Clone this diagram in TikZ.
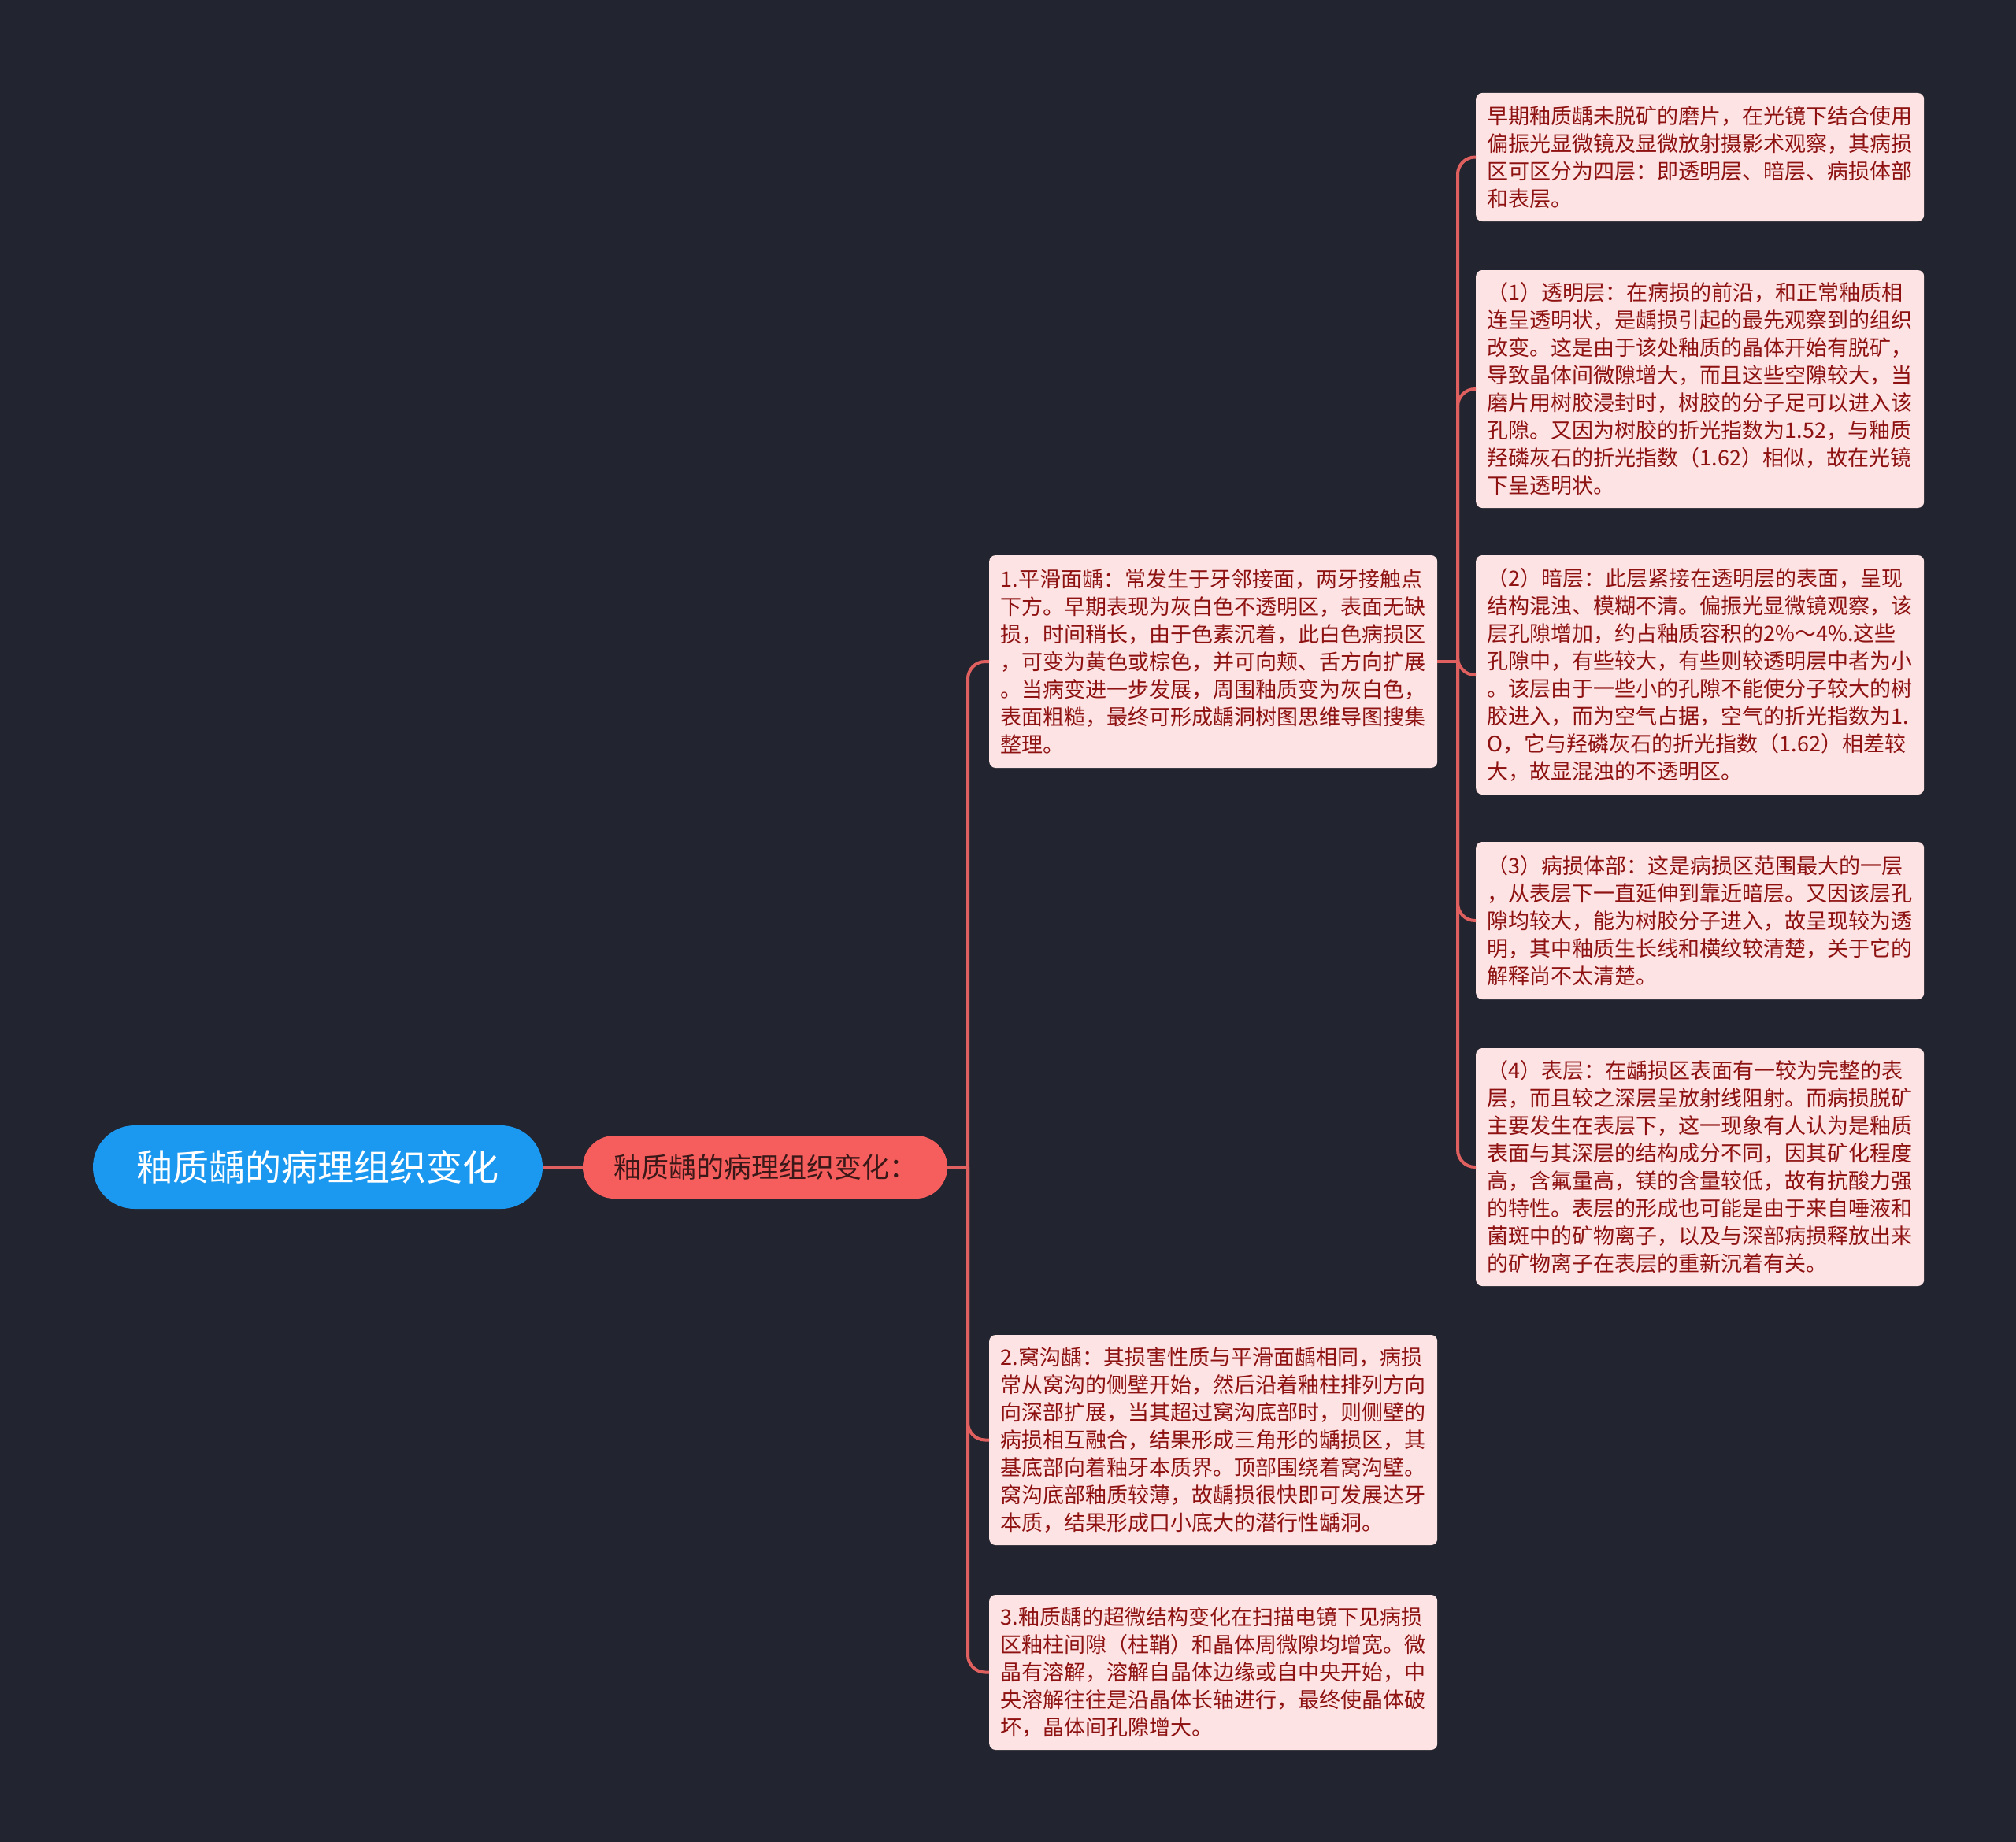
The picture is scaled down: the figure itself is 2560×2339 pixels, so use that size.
\documentclass[tikz,border=0pt]{standalone}
\usepackage{fontspec}
\setmainfont{Noto Sans CJK SC}
\definecolor{bgc}{HTML}{22252F}
\definecolor{linec}{HTML}{E0605F}
\definecolor{boxfill}{HTML}{FDE3E3}
\definecolor{boxtext}{HTML}{8E1212}
\definecolor{rootfill}{HTML}{1B98EF}
\definecolor{subfill}{HTML}{F65D5D}
\definecolor{subtext}{HTML}{3A1818}
\tikzset{
  leafbox/.style={draw=none, fill=boxfill, text=boxtext, rounded corners=8pt,
    text width=540pt, align=left, inner xsep=14.5pt, inner ysep=0pt,
    font=\fontsize{27}{35}\selectfont, anchor=west},
  rootbox/.style={fill=rootfill, text=white, rounded corners=53pt,
    minimum width=571pt, minimum height=106pt, inner sep=0pt,
    font=\fontsize{46}{52}\selectfont},
  subbox/.style={fill=subfill, text=subtext, rounded corners=40pt,
    minimum width=463pt, minimum height=80pt, inner sep=0pt,
    font=\fontsize{35}{42}\selectfont},
  conn/.style={draw=linec, line width=4pt},
  elbowconn/.style={conn, rounded corners=22pt}
}
\begin{document}
\begin{tikzpicture}[x=1pt,y=-1pt]
\fill[bgc] (0,0) rectangle (2560,2339);
\useasboundingbox (0,0) rectangle (2560,2339);

\node[rootbox] (root) at (403.5,1482) {釉质龋的病理组织变化};
\node[subbox] (sub) at (971.5,1482) {釉质龋的病理组织变化：};

\node[leafbox, minimum height=270pt] (m1) at (1256,840) {1.平滑面龋：常发生于牙邻接面，两牙接触点\\下方。早期表现为灰白色不透明区，表面无缺\\损，时间稍长，由于色素沉着，此白色病损区\\，可变为黄色或棕色，并可向颊、舌方向扩展\\。当病变进一步发展，周围釉质变为灰白色，\\表面粗糙，最终可形成龋洞树图思维导图搜集\\整理。};
\node[leafbox, minimum height=267pt] (m2) at (1256,1828.5) {2.窝沟龋：其损害性质与平滑面龋相同，病损\\常从窝沟的侧壁开始，然后沿着釉柱排列方向\\向深部扩展，当其超过窝沟底部时，则侧壁的\\病损相互融合，结果形成三角形的龋损区，其\\基底部向着釉牙本质界。顶部围绕着窝沟壁。\\窝沟底部釉质较薄，故龋损很快即可发展达牙\\本质，结果形成口小底大的潜行性龋洞。};
\node[leafbox, minimum height=197pt] (m3) at (1256,2123.5) {3.釉质龋的超微结构变化在扫描电镜下见病损\\区釉柱间隙（柱鞘）和晶体周微隙均增宽。微\\晶有溶解，溶解自晶体边缘或自中央开始，中\\央溶解往往是沿晶体长轴进行，最终使晶体破\\坏，晶体间孔隙增大。};

\node[leafbox, minimum height=163pt] (a) at (1874,199.5) {早期釉质龋未脱矿的磨片，在光镜下结合使用\\偏振光显微镜及显微放射摄影术观察，其病损\\区可区分为四层：即透明层、暗层、病损体部\\和表层。};
\node[leafbox, minimum height=302pt] (b) at (1874,494) {（1）透明层：在病损的前沿，和正常釉质相\\连呈透明状，是龋损引起的最先观察到的组织\\改变。这是由于该处釉质的晶体开始有脱矿，\\导致晶体间微隙增大，而且这些空隙较大，当\\磨片用树胶浸封时，树胶的分子足可以进入该\\孔隙。又因为树胶的折光指数为1.52，与釉质\\羟磷灰石的折光指数（1.62）相似，故在光镜\\下呈透明状。};
\node[leafbox, minimum height=304pt] (c) at (1874,857) {（2）暗层：此层紧接在透明层的表面，呈现\\结构混浊、模糊不清。偏振光显微镜观察，该\\层孔隙增加，约占釉质容积的2\%～4\%.这些\\孔隙中，有些较大，有些则较透明层中者为小\\。该层由于一些小的孔隙不能使分子较大的树\\胶进入，而为空气占据，空气的折光指数为1.\\O，它与羟磷灰石的折光指数（1.62）相差较\\大，故显混浊的不透明区。};
\node[leafbox, minimum height=200pt] (d) at (1874,1169) {（3）病损体部：这是病损区范围最大的一层\\，从表层下一直延伸到靠近暗层。又因该层孔\\隙均较大，能为树胶分子进入，故呈现较为透\\明，其中釉质生长线和横纹较清楚，关于它的\\解释尚不太清楚。};
\node[leafbox, minimum height=302pt] (e) at (1874,1482) {（4）表层：在龋损区表面有一较为完整的表\\层，而且较之深层呈放射线阻射。而病损脱矿\\主要发生在表层下，这一现象有人认为是釉质\\表面与其深层的结构成分不同，因其矿化程度\\高，含氟量高，镁的含量较低，故有抗酸力强\\的特性。表层的形成也可能是由于来自唾液和\\菌斑中的矿物离子，以及与深部病损释放出来\\的矿物离子在表层的重新沉着有关。};

\coordinate (j1) at (1229,1482);
\coordinate (j2) at (1851,840);

\draw[conn] (root.east) -- (sub.west);
\draw[conn] (sub.east) -- (j1);
\draw[elbowconn] (j1) |- (m1.west);
\draw[elbowconn] (j1) |- (m2.west);
\draw[elbowconn] (j1) |- (m3.west);

\draw[conn] (m1.east) -- (j2);
\draw[elbowconn] (j2) |- (a.west);
\draw[elbowconn] (j2) |- (b.west);
\draw[elbowconn] (j2) |- (c.west);
\draw[elbowconn] (j2) |- (d.west);
\draw[elbowconn] (j2) |- (e.west);
\end{tikzpicture}
\end{document}
